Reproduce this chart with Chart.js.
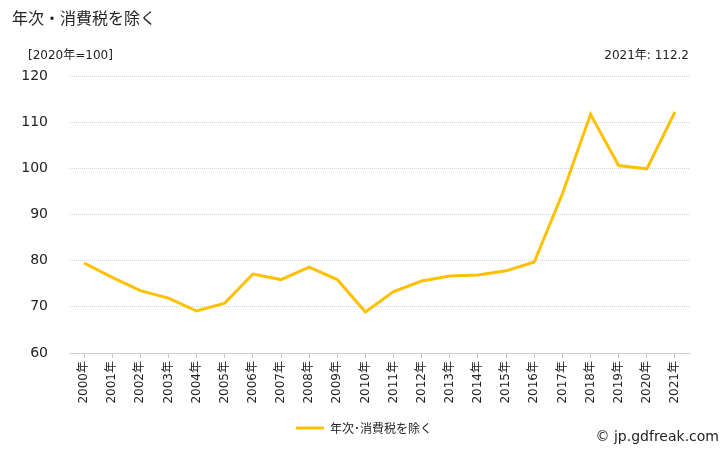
<!DOCTYPE html>
<html>
<head>
<meta charset="utf-8">
<title>年次・消費税を除く</title>
<script src="https://cdn.jsdelivr.net/npm/chart.js@4.4.0/dist/chart.umd.min.js"></script>
<style>
  body { margin: 0; background: #fff; }
  #wrap { width: 728px; height: 450px; position: relative; }
</style>
</head>
<body>
<div id="wrap"><canvas id="myCanvas"></canvas></div>
<script>
var years = ["2000年","2001年","2002年","2003年","2004年","2005年","2006年","2007年","2008年","2009年","2010年",
             "2011年","2012年","2013年","2014年","2015年","2016年","2017年","2018年","2019年","2020年","2021年"];
var values = [79.5, 76.4, 73.5, 71.9, 69.1, 70.8, 77.1, 75.9, 78.6, 75.9, 68.9,
              73.3, 75.6, 76.7, 76.9, 77.8, 79.7, 94.5, 111.7, 100.6, 99.9, 112.2];
var seriesName = "年次･消費税を除く";
var FONT = "'DejaVu Sans', 'Noto Sans CJK JP', sans-serif";
var CJK = "'Noto Sans CJK JP', sans-serif";

// titles, unit and footer text
var textPlugin = {
  id: 'texts',
  afterDraw: function(chart) {
    var c = chart.ctx;
    c.save();
    c.fillStyle = '#222';
    c.textBaseline = 'middle';
    c.font = '16px ' + CJK;
    c.textAlign = 'left';
    c.fillText('年次・消費税を除く', 12, 18);
    c.font = '12px ' + FONT;
    c.fillText('[2020年=100]', 28, 56);
    c.textAlign = 'right';
    c.fillText('2021年: 112.2', 689, 56);
    c.font = '14px ' + FONT;
    c.fillText('© jp.gdfreak.com', 719, 437);
    c.restore();
  }
};

new Chart(document.getElementById("myCanvas"), {
  type: 'line',
  data: {
    labels: years,
    datasets: [{
      label: seriesName,
      data: values,
      borderColor: '#FFC000',
      backgroundColor: '#FFC000',
      borderWidth: 3,
      pointRadius: 0,
      tension: 0,
      fill: false
    }]
  },
  options: {
    responsive: true,
    maintainAspectRatio: false,
    animation: false,
    layout: { padding: { top: 76, left: 0, right: 0, bottom: 6 } },
    plugins: {
      legend: {
        position: 'bottom',
        labels: {
          usePointStyle: true,
          pointStyle: 'line',
          pointStyleWidth: 28,
          boxHeight: 12,
          padding: 10,
          color: '#222',
          font: { size: 12, family: CJK }
        }
      },
      tooltip: { enabled: false }
    },
    scales: {
      x: {
        offset: true,
        grid: { display: true, drawOnChartArea: false, tickLength: 5, color: '#ccc' },
        border: { display: true, color: '#ccc', dash: [1, 1] },
        ticks: {
          minRotation: 90, maxRotation: 90, autoSkip: false,
          color: '#222', padding: 3,
          font: { size: 12, family: FONT }
        },
        afterFit: function(s) { s.height = 59; }
      },
      y: {
        min: 60, max: 120,
        ticks: {
          stepSize: 10, color: '#222', padding: 22,
          font: { size: 14, family: FONT }
        },
        grid: { color: '#d2d2d2', drawTicks: false },
        border: { display: false, dash: [1, 1] },
        afterFit: function(s) { s.width = 70; }
      },
      // blank right-hand axis, only to keep the plot's right margin
      yRight: {
        position: 'right',
        min: 60, max: 120,
        ticks: { display: false },
        grid: { display: false, drawTicks: false },
        border: { display: false },
        afterFit: function(s) { s.width = 39; }
      }
    }
  },
  plugins: [textPlugin]
});
</script>
</body>
</html>
